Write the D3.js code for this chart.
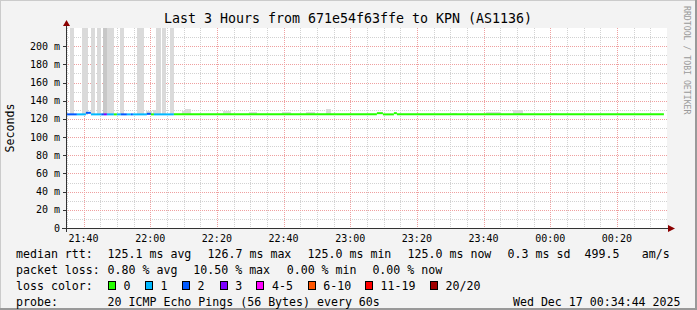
<!DOCTYPE html>
<html><head><meta charset="utf-8">
<script src="https://cdn.jsdelivr.net/npm/d3@7"></script>
<style>
html,body{margin:0;padding:0;background:#f3f3f3;}
svg{display:block;}
text{font-family:"DejaVu Sans Mono",monospace;}
</style></head><body>
<svg id="chart" width="697" height="310"></svg>
<script>
// ---------------- data ----------------
const title = "Last 3 Hours from 671e54f63ffe to KPN (AS1136)";
const yAxisTitle = "Seconds";
const watermark = "RRDTOOL / TOBI OETIKER";
const yTickValues = [0, 20, 40, 60, 80, 100, 120, 140, 160, 180, 200];
const yTickLabels = ["0", "20 m", "40 m", "60 m", "80 m", "100 m", "120 m", "140 m", "160 m", "180 m", "200 m"];
const xTickLabels = ["21:40", "22:00", "22:20", "22:40", "23:00", "23:20", "23:40", "00:00", "00:20"];

// median rtt (ms), as steps; times in minutes after 21:00 on Dec 16
const medStart = [34.73, 38.0, 40.7, 42.2, 45.3, 46.1, 47.0, 49.1, 50.0, 51.2, 53.0, 54.2, 54.8, 59.0, 60.2, 61.1, 67.1, 128.0, 129.8, 133.1, 134.0];
const medEnd   = [38.0, 40.7, 42.2, 45.3, 46.1, 47.0, 49.1, 50.0, 51.2, 53.0, 54.2, 54.8, 59.0, 60.2, 61.1, 67.1, 128.0, 129.8, 133.1, 134.0, 214.1];
const medRtt   = [125.0, 125.0, 126.7, 125.0, 125.0, 125.0, 125.0, 125.0, 125.0, 125.0, 125.0, 125.0, 125.0, 125.6, 125.0, 125.0, 125.0, 126.3, 125.0, 126.3, 125.0];
const medLoss  = [2, 1, 2, 1, 2, 3, 1, 0, 1, 2, 1, 2, 1, 2, 0, 1, 0, 0, 0, 0, 0];

// smoke (spread of the 20 pings), ms
const smokeStart = [36.1, 39.7, 42.4, 44.1, 46.1, 47.1, 51.1, 56.1, 61.9, 63.6, 66.1, 59.0, 61.1, 69.8, 70.7, 82.1, 89.9, 99.8, 107.0, 113.0, 150.8, 161.0, 169.1, 180.8];
const smokeEnd   = [37.1, 41.1, 43.2, 45.1, 47.1, 49.1, 52.1, 58.1, 63.1, 64.6, 67.1, 60.5, 61.9, 72.2, 72.2, 84.2, 92.0, 102.2, 109.2, 114.2, 152.0, 165.0, 171.8, 182.0];
const smokeLow   = [124.5, 124.5, 124.5, 124.5, 124.5, 124.5, 124.5, 124.5, 124.5, 124.5, 124.5, 124.5, 124.5, 124.5, 124.5, 124.5, 124.5, 124.5, 124.5, 124.5, 124.5, 124.5, 124.5, 124.5];
const smokeHigh  = [240, 240, 240, 240, 240, 240, 240, 240, 240, 240, 240, 128.5, 129.5, 128.5, 130.7, 128.5, 127.5, 127.5, 127.5, 130.7, 127.0, 127.5, 130.0, 127.0];
const smokeShade = [0, 0, 0, 0, 1, 0, 0, 0, 0, 0, 0, 0, 0, 0, 0, 0, 0, 0, 0, 0, 0, 0, 0, 0];

const lossLabels = ["0", "1", "2", "3", "4-5", "6-10", "11-19", "20/20"];
const lossColors = ["#26ff00", "#00b8ff", "#0059ff", "#7e00ff", "#ff00ff", "#ff5500", "#ff0000", "#a00000"];

const legendRtt = ["median rtt:", "125.1 ms avg", "126.7 ms max", "125.0 ms min", "125.0 ms now", "0.3 ms sd", "499.5", "am/s"];
const legendLoss = ["packet loss:", "0.80 % avg", "10.50 % max", "0.00 % min", "0.00 % now"];
const legendLossColor = "loss color:";
const legendProbe = ["probe:", "20 ICMP Echo Pings (56 Bytes) every 60s"];
const stamp = "Wed Dec 17 00:34:44 2025";

// ---------------- drawing ----------------
const svg = d3.select("#chart");
const W = 697, H = 310;
const L = 66, R = 666, T = 28, B = 228;
const base = new Date(2025, 11, 16, 21, 0, 0).getTime();
const toDate = m => new Date(base + m * 60000);

const x = d3.scaleTime()
  .domain([new Date(2025, 11, 16, 21, 34, 44), new Date(2025, 11, 17, 0, 34, 44)])
  .range([L, R]);
const y = d3.scaleLinear().domain([0, 220]).range([B, T]);

const lossIndex = n => n <= 3 ? n : n <= 5 ? 4 : n <= 10 ? 5 : n <= 19 ? 6 : 7;
const px = v => Math.round(v) + 0.5;

svg.append("rect").attr("width", W).attr("height", H).attr("fill", "#f3f3f3");
// frame shading
svg.append("rect").attr("x", 0).attr("y", 0).attr("width", W).attr("height", 1).attr("fill", "#cbcbcb");
svg.append("rect").attr("x", 0).attr("y", 0).attr("width", 1).attr("height", H).attr("fill", "#cbcbcb");
svg.append("rect").attr("x", W - 2).attr("y", 0).attr("width", 2).attr("height", H).attr("fill", "#999");
svg.append("rect").attr("x", 0).attr("y", H - 2).attr("width", W).attr("height", 2).attr("fill", "#999");

// canvas
svg.append("rect").attr("x", L).attr("y", T).attr("width", R - L + 1).attr("height", B - T).attr("fill", "#fff");

const grid = svg.append("g");
const dom = x.domain();
const minorX = d3.timeMinute.every(5).range(dom[0], dom[1]).filter(d => d.getMinutes() % 20 !== 0);
const majorX = d3.timeMinute.every(20).range(dom[0], dom[1]);
const minorY = d3.range(10, 220, 20);
const majorY = yTickValues.filter(v => v > 0);

grid.selectAll(".mx").data(minorX).join("line")
  .attr("x1", d => px(x(d))).attr("x2", d => px(x(d)))
  .attr("y1", T).attr("y2", B)
  .attr("stroke", "#d2d2d2").attr("stroke-dasharray", "1,1");
grid.selectAll(".my").data(minorY).join("line")
  .attr("x1", L).attr("x2", R + 1)
  .attr("y1", d => px(y(d))).attr("y2", d => px(y(d)))
  .attr("stroke", "#d2d2d2").attr("stroke-dasharray", "1,1");
grid.selectAll(".Mx").data(majorX).join("line")
  .attr("x1", d => px(x(d))).attr("x2", d => px(x(d)))
  .attr("y1", T).attr("y2", B)
  .attr("stroke", "#efa0a0").attr("stroke-dasharray", "1,1");
grid.selectAll(".My").data(majorY).join("line")
  .attr("x1", L).attr("x2", R + 1)
  .attr("y1", d => px(y(d))).attr("y2", d => px(y(d)))
  .attr("stroke", "#efa0a0").attr("stroke-dasharray", "1,1");

// smoke
const smoke = smokeStart.map((s, i) => ({ s, e: smokeEnd[i], lo: smokeLow[i], hi: smokeHigh[i], sh: smokeShade[i] }));
svg.append("g").selectAll("rect").data(smoke).join("rect")
  .attr("x", d => Math.floor(x(toDate(d.s))))
  .attr("width", d => Math.max(1, Math.ceil(x(toDate(d.e))) - Math.floor(x(toDate(d.s)))))
  .attr("y", d => Math.round(y(Math.min(d.hi, 220))))
  .attr("height", d => Math.round(y(d.lo)) - Math.round(y(Math.min(d.hi, 220))))
  .attr("fill", d => d.sh ? "#c8c8c8" : "#dadada");

// median line
const med = medStart.map((s, i) => ({ s, e: medEnd[i], v: medRtt[i], l: medLoss[i] }));
const line = d3.line().x(d => d[0]).y(d => d[1]);
svg.append("g").selectAll("path").data(med).join("path")
  .attr("d", d => line([[x(toDate(d.s)), y(d.v)], [x(toDate(d.e)), y(d.v)]]))
  .attr("stroke", d => lossColors[lossIndex(d.l)])
  .attr("stroke-width", 2).attr("fill", "none");

// axes
const axisC = "#333";
svg.append("line").attr("x1", 62).attr("x2", 670).attr("y1", B + 0.5).attr("y2", B + 0.5).attr("stroke", axisC);
svg.append("line").attr("x1", L + 0.5).attr("x2", L + 0.5).attr("y1", B + 4).attr("y2", 24).attr("stroke", axisC);
svg.append("path").attr("d", `M${L + 0.5},20 L${L - 3},26 L${L + 4},26 Z`).attr("fill", "#8b0000");
svg.append("path").attr("d", `M675,${B + 0.5} L668,${B - 3} L668,${B + 4} Z`).attr("fill", "#8b0000");

// y ticks and labels
svg.append("g").selectAll("line").data(yTickValues).join("line")
  .attr("x1", L - 3).attr("x2", L).attr("y1", d => px(y(d))).attr("y2", d => px(y(d)))
  .attr("stroke", axisC);
svg.append("g").selectAll("text").data(yTickValues).join("text")
  .attr("x", 60).attr("y", d => y(d) + 3.5)
  .attr("text-anchor", "end").attr("font-size", "10px").attr("fill", "#000")
  .text((d, i) => yTickLabels[i]);

// x tick labels
svg.append("g").selectAll("text").data(majorX).join("text")
  .attr("x", d => x(d)).attr("y", 242)
  .attr("text-anchor", "middle").attr("font-size", "10px").attr("fill", "#000")
  .text((d, i) => xTickLabels[i]);

// title
svg.append("text").attr("x", 348).attr("y", 23).attr("text-anchor", "middle")
  .attr("font-size", "13.3px").attr("fill", "#000").text(title);
// y axis title
svg.append("text").attr("transform", "translate(14,128) rotate(-90)").attr("text-anchor", "middle")
  .attr("font-size", "11.6px").attr("fill", "#000").text(yAxisTitle);
// watermark
svg.append("text").attr("transform", "translate(684,6) rotate(90)")
  .attr("font-size", "8.2px").attr("fill", "#9a9a9a").text(watermark);

// legend
const lg = svg.append("g").attr("font-size", "11.6px").attr("fill", "#000");
const rttX = [16, 107.6, 207.6, 307.6, 407.6, 507.6, 584.6, 641.7];
legendRtt.forEach((t, i) => lg.append("text").attr("x", rttX[i]).attr("y", 258).text(t));
const lossX = [16, 107.6, 193.3, 286.7, 372.4];
legendLoss.forEach((t, i) => lg.append("text").attr("x", lossX[i]).attr("y", 274).text(t));
lg.append("text").attr("x", 16).attr("y", 290).text(legendLossColor);
const boxX = [108, 145, 182, 219.6, 256.4, 307.6, 365, 430];
lossLabels.forEach((t, i) => {
  lg.append("rect").attr("x", Math.round(boxX[i]) + 0.5).attr("y", 281.5).attr("width", 7).attr("height", 8)
    .attr("fill", lossColors[i]).attr("stroke", "#000");
  lg.append("text").attr("x", boxX[i] + 15.6).attr("y", 290).text(t);
});
lg.append("text").attr("x", 16).attr("y", 306).text(legendProbe[0]);
lg.append("text").attr("x", 107.6).attr("y", 306).text(legendProbe[1]);
lg.append("text").attr("x", 680.5).attr("y", 306).attr("text-anchor", "end").text(stamp);
</script>
</body></html>
